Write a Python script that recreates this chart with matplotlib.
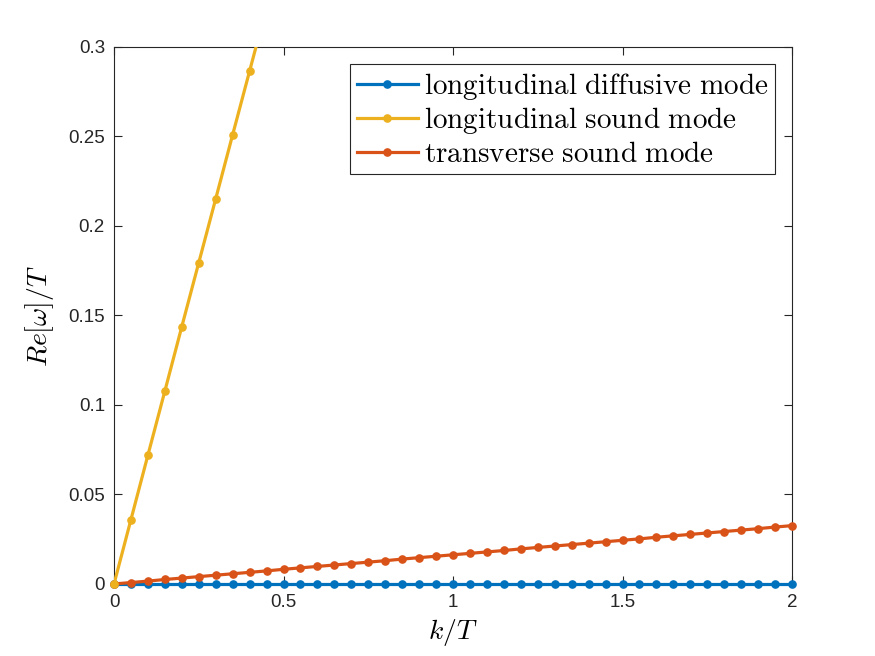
import matplotlib
matplotlib.use("Agg")
import matplotlib.pyplot as plt
import numpy as np

plt.rcParams['mathtext.fontset'] = 'cm'
plt.rcParams['font.family'] = ['Liberation Sans', 'DejaVu Sans']

k = [0.00, 0.05, 0.10, 0.15, 0.20, 0.25, 0.30, 0.35, 0.40, 0.45, 0.50,
     0.55, 0.60, 0.65, 0.70, 0.75, 0.80, 0.85, 0.90, 0.95, 1.00,
     1.05, 1.10, 1.15, 1.20, 1.25, 1.30, 1.35, 1.40, 1.45, 1.50,
     1.55, 1.60, 1.65, 1.70, 1.75, 1.80, 1.85, 1.90, 1.95, 2.00]

diffusive = [0.0] * 41

k_sound = [0.00, 0.05, 0.10, 0.15, 0.20, 0.25, 0.30, 0.35, 0.40, 0.45, 0.50]
sound = [0.0, 0.0360, 0.0720, 0.1078, 0.1438, 0.1795, 0.2152, 0.2510, 0.2866, 0.3222, 0.3578]

transverse = [0.0000, 0.0008, 0.0016, 0.0025, 0.0033, 0.0041, 0.0049, 0.0057, 0.0065, 0.0073, 0.0082,
              0.0090, 0.0098, 0.0106, 0.0114, 0.0122, 0.0130, 0.0139, 0.0147, 0.0155, 0.0163,
              0.0171, 0.0179, 0.0187, 0.0196, 0.0204, 0.0212, 0.0220, 0.0228, 0.0236, 0.0244,
              0.0252, 0.0261, 0.0269, 0.0277, 0.0285, 0.0293, 0.0301, 0.0309, 0.0318, 0.0326]

labels = [r'$\mathrm{longitudinal\ diffusive\ mode}$',
          r'$\mathrm{longitudinal\ sound\ mode}$',
          r'$\mathrm{transverse\ sound\ mode}$']

c_blue = '#0072BD'
c_yellow = '#EDB120'
c_red = '#D95319'

LW = 2.3
MS = 5.2

fig = plt.figure(figsize=(8.75, 6.56), dpi=100)
ax = fig.add_axes([0.1303, 0.1098, 0.7749, 0.8186])
ymax = 0.3

ax.plot(k, diffusive, '-o', color=c_blue, lw=LW, ms=MS, label=labels[0],
        clip_on=False, zorder=3)
ax.plot(k, transverse, '-o', color=c_red, lw=LW, ms=MS, label=labels[2],
        clip_on=False, zorder=4)
# sound mode: line clipped at the top of the axes, markers kept when inside range
ks = np.array(k_sound)
sv = np.array(sound)
ax.plot(ks, sv, '-', color=c_yellow, lw=LW, zorder=5)
inside = sv <= ymax
ax.plot(ks[inside], sv[inside], 'o', color=c_yellow, ms=MS, clip_on=False, zorder=5)
ax.plot([], [], '-o', color=c_yellow, lw=LW, ms=MS, label=labels[1])

ax.set_xlim(0, 2)
ax.set_ylim(0, ymax)
ax.set_xticks([0, 0.5, 1, 1.5, 2])
ax.set_xticklabels(['0', '0.5', '1', '1.5', '2'])
ax.set_yticks([0, 0.05, 0.1, 0.15, 0.2, 0.25, 0.3])
ax.set_yticklabels(['0', '0.05', '0.1', '0.15', '0.2', '0.25', '0.3'])
ax.tick_params(direction='in', top=True, right=True, labelsize=13.5, length=5.5,
               width=0.8, colors='#262626')
ax.tick_params(axis='y', pad=6.5)
ax.tick_params(axis='x', pad=7.5)
for s in ax.spines.values():
    s.set_color('#262626')
    s.set_linewidth(0.8)

ax.set_xlabel(r'$k/T$', fontsize=20, labelpad=4)
ax.set_ylabel(r'$Re[\omega]/T$', fontsize=20, labelpad=9)

handles, labs = ax.get_legend_handles_labels()
order = [labs.index(l) for l in labels]
leg = ax.legend([handles[i] for i in order], [labs[i] for i in order],
                loc='upper right', fontsize=21, frameon=True, fancybox=False,
                edgecolor='#262626', framealpha=1, borderaxespad=0.6,
                handlelength=2.1, handletextpad=0.2, labelspacing=0.12,
                borderpad=0.22)
leg.get_frame().set_linewidth(0.8)

fig.savefig('out.png', dpi=100, facecolor='white')
